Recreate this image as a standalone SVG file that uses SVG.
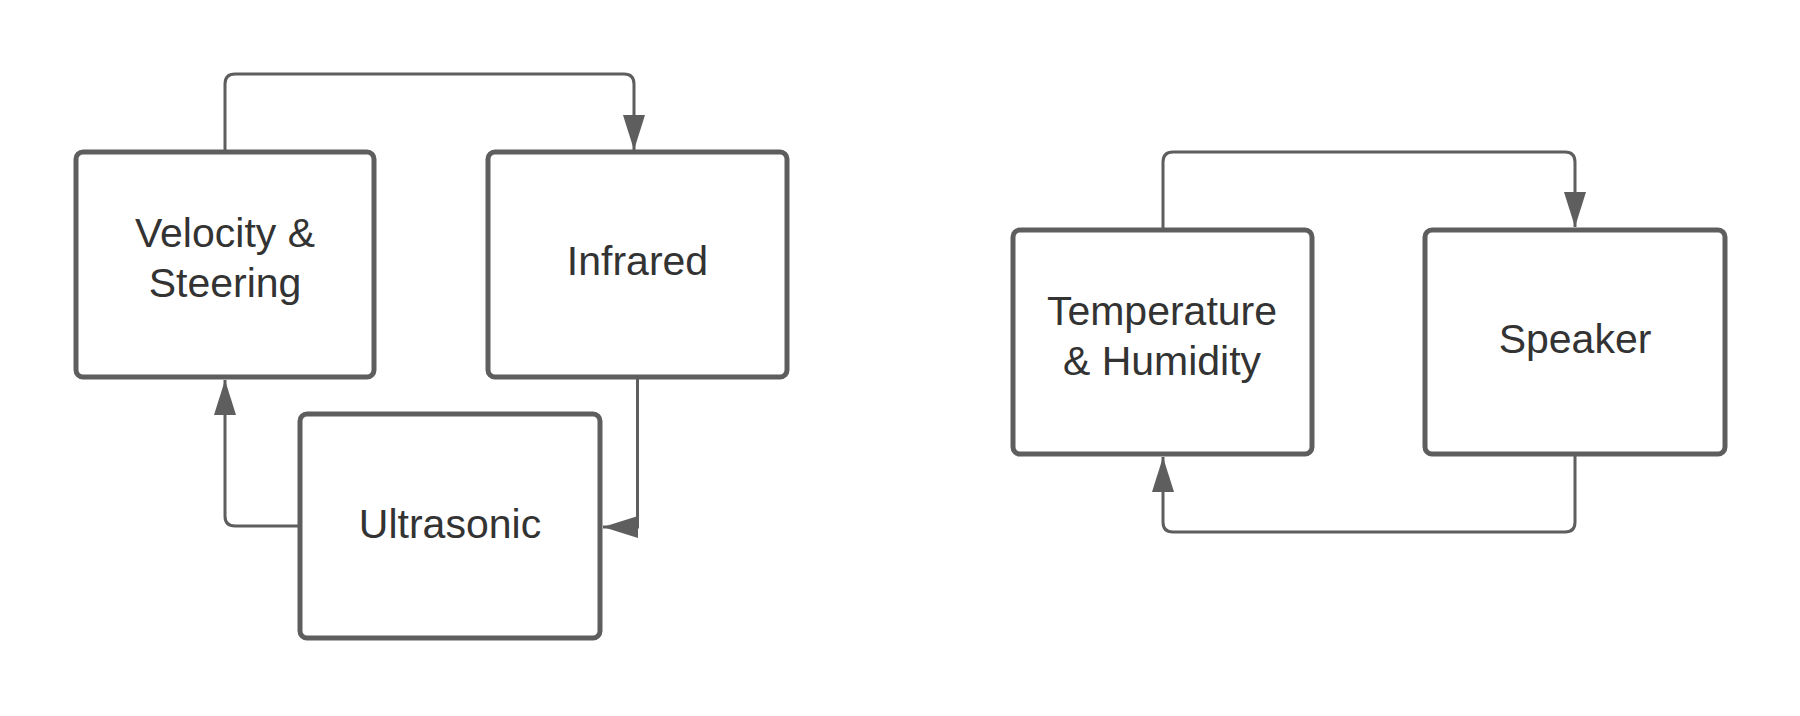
<svg xmlns="http://www.w3.org/2000/svg" width="1800" height="716" viewBox="0 0 1800 716">
<style>
.box{fill:#ffffff;stroke:#5e5e5e;stroke-width:5}
.lbl{font-family:"Liberation Sans",Arial,sans-serif;font-size:41px;fill:#333333;text-anchor:middle}
.conn{fill:none;stroke:#5e5e5e;stroke-width:3;marker-end:url(#arrow)}
</style>
<defs>
<marker id="arrow" markerUnits="userSpaceOnUse" markerWidth="36" markerHeight="24" refX="35" refY="11" orient="auto" viewBox="0 0 36 24">
<path d="M0,0 L35,11 L0,22 Z" fill="#5e5e5e"/>
</marker>
</defs>
<rect width="1800" height="716" fill="#ffffff"/>
<g id="connectors">
<path class="conn" d="M225,152 V84 Q225,74 235,74 H624 Q634,74 634,84 V150"/>
<path class="conn" d="M637.5,379 V527 H603"/>
<path class="conn" d="M300,526 H235 Q225,526 225,516 V380"/>
<path class="conn" d="M1163,230 V162 Q1163,152 1173,152 H1565 Q1575,152 1575,162 V227"/>
<path class="conn" d="M1575,454 V522 Q1575,532 1565,532 H1173 Q1163,532 1163,522 V457"/>
</g>
<g id="node-velocity">
<rect class="box" x="76" y="152" width="298" height="225" rx="7"/>
<text class="lbl" x="225" y="247">Velocity &amp;</text>
<text class="lbl" x="225" y="297">Steering</text>
</g>
<g id="node-infrared">
<rect class="box" x="488" y="152" width="299" height="225" rx="7"/>
<text class="lbl" x="637.5" y="275">Infrared</text>
</g>
<g id="node-ultrasonic">
<rect class="box" x="300" y="414" width="300" height="224" rx="7"/>
<text class="lbl" x="450" y="538">Ultrasonic</text>
</g>
<g id="node-temperature">
<rect class="box" x="1013" y="230" width="299" height="224" rx="7"/>
<text class="lbl" x="1162" y="325">Temperature</text>
<text class="lbl" x="1162" y="375">&amp; Humidity</text>
</g>
<g id="node-speaker">
<rect class="box" x="1425" y="230" width="300" height="224" rx="7"/>
<text class="lbl" x="1575" y="353">Speaker</text>
</g>
</svg>
